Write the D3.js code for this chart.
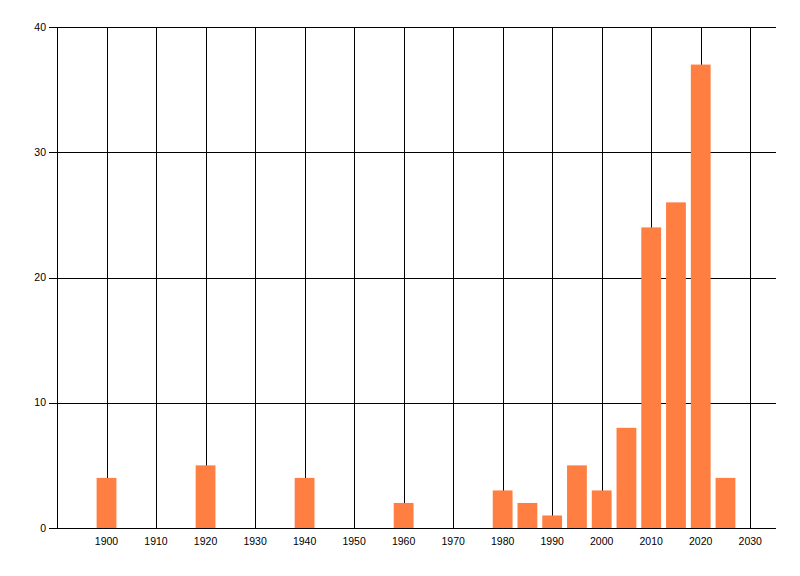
<!doctype html>
<html lang="en">
<head>
  <meta charset="utf-8">
  <title>Bar chart by year</title>
  <script src="https://cdn.jsdelivr.net/npm/d3@7"></script>
  <style>
    body { margin: 0; background: #fff; font-family: "Liberation Sans", Arial, sans-serif; }
  </style>
</head>
<body>
  <svg xmlns="http://www.w3.org/2000/svg"></svg>
  <script>

    // data
    var years  = [1900, 1920, 1940, 1960, 1980, 1985, 1990, 1995, 2000, 2005, 2010, 2015, 2020, 2025];
    var counts = [4, 5, 4, 2, 3, 2, 1, 5, 3, 8, 24, 26, 37, 4];
    var xTicks = [1900, 1910, 1920, 1930, 1940, 1950, 1960, 1970, 1980, 1990, 2000, 2010, 2020, 2030];
    var yTicks = [0, 10, 20, 30, 40];

    var svg = d3.select("svg")
      .attr("width", 800)
      .attr("height", 576);

    var margin = { top: 27, right: 25, bottom: 48, left: 57 },
        width = 800 - margin.left - margin.right,
        height = 576 - margin.top - margin.bottom,
        g = svg.append("g").attr("transform", "translate(" + margin.left + "," + margin.top + ")");

    var x = d3.scaleLinear().domain([1890, 2035]).range([0, width]);
    var y = d3.scaleLinear().domain([0, 40]).range([height, 0]);

    // vertical grid
    g.append("g")
      .selectAll("line")
      .data(xTicks)
      .join("line")
        .attr("x1", d => Math.round(x(d)) + 0.5)
        .attr("x2", d => Math.round(x(d)) + 0.5)
        .attr("y1", 0)
        .attr("y2", height)
        .attr("stroke", "#000")
        .attr("shape-rendering", "crispEdges");

    // horizontal grid with little ticks on the left
    g.append("g")
      .selectAll("line")
      .data(yTicks)
      .join("line")
        .attr("x1", -8)
        .attr("x2", width + 1)
        .attr("y1", d => Math.round(y(d)) + 0.5)
        .attr("y2", d => Math.round(y(d)) + 0.5)
        .attr("stroke", "#000")
        .attr("shape-rendering", "crispEdges");

    // left axis line
    g.append("line")
      .attr("x1", 0.5).attr("x2", 0.5)
      .attr("y1", 0).attr("y2", height)
      .attr("stroke", "#000")
      .attr("shape-rendering", "crispEdges");

    // bars, 4 years wide
    g.append("g")
      .selectAll("rect")
      .data(years)
      .join("rect")
        .attr("x", d => x(d - 2))
        .attr("width", x(1894) - x(1890))
        .attr("y", (d, i) => y(counts[i]))
        .attr("height", (d, i) => y(0) - y(counts[i]))
        .attr("fill", "#ff7f42");

    // redraw the baseline over the bars
    g.append("line")
      .attr("x1", 0).attr("x2", width + 1)
      .attr("y1", Math.round(y(0)) + 0.5).attr("y2", Math.round(y(0)) + 0.5)
      .attr("stroke", "#000")
      .attr("shape-rendering", "crispEdges");

    // tick labels
    g.append("g")
      .selectAll("text")
      .data(yTicks)
      .join("text")
        .attr("x", -11)
        .attr("y", d => y(d))
        .attr("dy", "0.35em")
        .attr("text-anchor", "end")
        .style("font-size", "10.5px")
        .attr("fill", "#000")
        .text(d => d);

    g.append("g")
      .selectAll("text")
      .data(xTicks)
      .join("text")
        .attr("x", d => x(d))
        .attr("y", height + 17)
        .attr("text-anchor", "middle")
        .style("font-size", "10.5px")
        .attr("fill", "#000")
        .text(d => d);

  </script>
</body>
</html>
